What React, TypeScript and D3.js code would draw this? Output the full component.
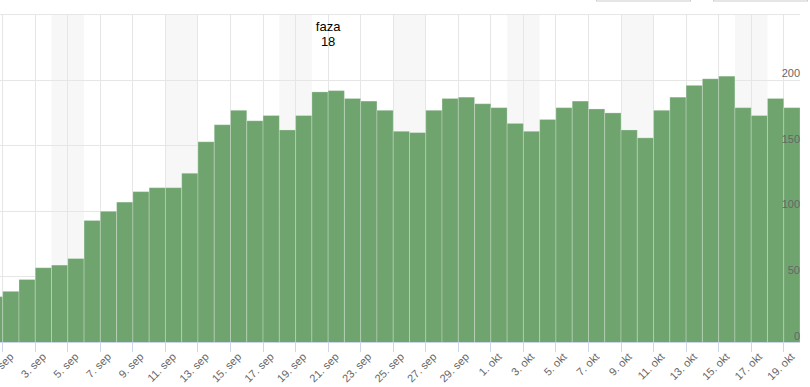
import React from "react";
import * as d3 from "d3";

// daily counts, first value is 31 aug (only partly visible at the left edge)
const startDay = new Date(Date.UTC(2021, 7, 31));
const counts = [
	35,
	39, 48, 57, 59, 64, 93, 100, 107, 115, 118,
	118, 129, 153, 166, 177, 169, 173, 162, 173, 191,
	192, 186, 184, 177, 161, 160, 177, 186, 187, 182,
	179, 167, 161, 170, 179, 184, 178, 175, 162, 156,
	177, 187, 196, 201, 203, 179, 173, 186, 179,
];
const monthNames = ["jan", "feb", "mar", "apr", "maj", "jun", "jul", "avg", "sep", "okt", "nov", "dec"];
const yTicks = [0, 50, 100, 150, 200, 250];
const yLabels = [0, 50, 100, 150, 200];
const phaseDay = new Date(Date.UTC(2021, 8, 21));
const phaseLabel = ["faza", "18"];

const width = 810;
const height = 387;
const plot = { left: 0, right: 800, top: 14, bottom: 342.5 };

const App = () => {
	const days = counts.map((_, i) => d3.utcDay.offset(startDay, i));
	const endDay = d3.utcDay.offset(startDay, counts.length);

	const x = d3
		.scaleUtc()
		.domain([d3.utcHour.offset(d3.utcDay.offset(startDay, 1), -4), endDay])
		.range([plot.left, plot.right]);
	const y = d3.scaleLinear().domain([0, 250]).range([plot.bottom, plot.top + 0.5]);

	const ticks = d3.utcDay.every(2)!.range(d3.utcDay.offset(startDay, 1), endDay);
	const weekends = days.filter((d) => d.getUTCDay() === 6);
	const crisp = (v: number) => Math.floor(v) + 0.5;

	return (
		<svg
			width={width}
			height={height}
			style={{ position: "absolute", left: 0, top: 0 }}
			fontFamily='"Liberation Sans", Arial, Helvetica, sans-serif'
		>
			<rect width={width} height={height} fill="#fff" />
			{/* buttons cut off at the top */}
			<rect x={596.5} y={-30} width={94} height={31} fill="#fff" stroke="#cccccc" />
			<rect x={713.5} y={-30} width={94} height={31} fill="#fff" stroke="#cccccc" />

			<clipPath id="plotClip">
				<rect x={plot.left} y={plot.top} width={plot.right - plot.left} height={plot.bottom - plot.top} />
			</clipPath>

			<g clipPath="url(#plotClip)">
				{weekends.map((d) => (
					<rect
						key={+d}
						x={x(d)}
						y={plot.top}
						width={x(d3.utcDay.offset(d, 2)) - x(d)}
						height={plot.bottom - plot.top}
						fill="#f7f7f7"
					/>
				))}
			</g>

			{yTicks.map((t) => (
				<line
					key={t}
					x1={plot.left}
					x2={plot.right}
					y1={crisp(y(t))}
					y2={crisp(y(t))}
					stroke="#e6e6e6"
				/>
			))}
			{ticks.map((d) => (
				<line
					key={+d}
					x1={crisp(x(d))}
					x2={crisp(x(d))}
					y1={plot.top}
					y2={plot.bottom}
					stroke="#e6e6e6"
				/>
			))}

			<g clipPath="url(#plotClip)">
				{days.map((d, i) => (
					<rect
						key={+d}
						x={x(d)}
						y={y(counts[i])}
						width={x(d3.utcDay.offset(d, 1)) - x(d)}
						height={y(0) - y(counts[i])}
						fill="#6fa46f"
						stroke="rgba(255,255,255,0.25)"
						strokeWidth={1}
					/>
				))}
			</g>

			{/* phase marker */}
			<g textAnchor="middle" fontSize={13} fill="#000">
				{phaseLabel.map((s, i) => (
					<text key={s} x={x(phaseDay)} y={31 + i * 15}>
						{s}
					</text>
				))}
			</g>

			{/* y axis labels on the right, inside the plot */}
			<g textAnchor="end" fontSize={11} fill="#666666">
				{yLabels.map((t) => (
					<text key={t} x={plot.right} y={y(t) - 3}>
						{t}
					</text>
				))}
			</g>

			{/* x axis */}
			<line x1={plot.left} x2={plot.right} y1={342.5} y2={342.5} stroke="#ccd6eb" />
			{ticks.map((d) => (
				<line
					key={+d}
					x1={crisp(x(d))}
					x2={crisp(x(d))}
					y1={342}
					y2={352}
					stroke="#ccd6eb"
				/>
			))}
			<g textAnchor="end" fontSize={11} fill="#666666">
				{ticks.map((d) => (
					<text
						key={+d}
						transform={`translate(${x(d) + 11.5},357.5) rotate(-45)`}
					>
						{`${d.getUTCDate()}. ${monthNames[d.getUTCMonth()]}`}
					</text>
				))}
			</g>
		</svg>
	);
};

export default App;
